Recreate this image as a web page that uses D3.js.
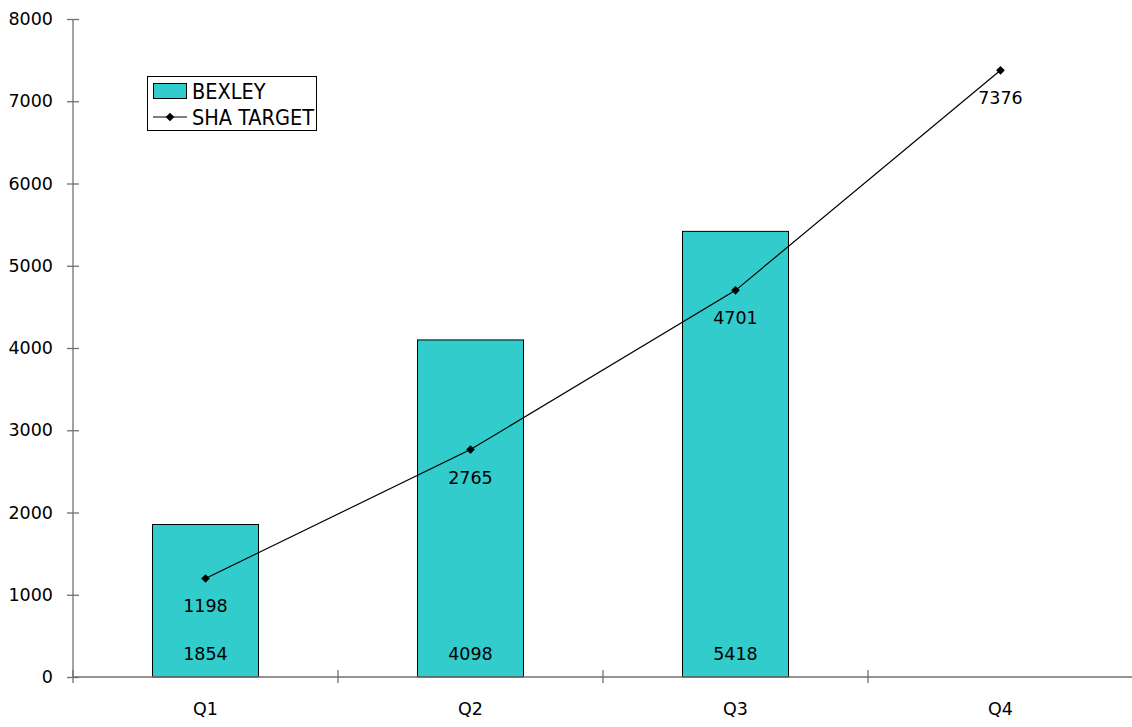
<!DOCTYPE html>
<html>
<head>
<meta charset="utf-8">
<script src="https://cdn.jsdelivr.net/npm/d3@7/dist/d3.min.js"></script>
<style>
  html, body { margin: 0; padding: 0; background: #fff; }
  svg { display: block; }
  text { font-family: "DejaVu Sans", sans-serif; fill: #000; }
  .legend text { font-family: "DejaVu Sans Condensed", "DejaVu Sans", sans-serif; font-stretch: condensed; }
</style>
</head>
<body>
<svg id="chart" width="1132" height="727"></svg>
<script>
// Quarterly figures
const quarters = ["Q1", "Q2", "Q3", "Q4"];
const bexley = [1854, 4098, 5418, null];
const shaTarget = [1198, 2765, 4701, 7376];
const yTicks = [0, 1000, 2000, 3000, 4000, 5000, 6000, 7000, 8000];

const svg = d3.select("#chart");
const plotL = 73, plotR = 1133, plotT = 19, plotB = 677;
const fontSize = 17.5;
const legendFont = 21.5;
const fontFam = "DejaVu Sans, sans-serif";

const x = d3.scaleBand().domain(quarters).range([plotL, plotR]).paddingInner(0).paddingOuter(0);
const y = d3.scaleLinear().domain([0, 8000]).range([plotB, plotT]);
const barW = x.bandwidth() * 0.4;

const barData = quarters.map((q, i) => ({ q, v: bexley[i] })).filter(d => d.v != null);

// Bars
svg.append("g").selectAll("rect")
  .data(barData)
  .join("rect")
  .attr("x", d => x(d.q) + x.bandwidth() / 2 - barW / 2)
  .attr("y", d => y(d.v))
  .attr("width", barW)
  .attr("height", d => y(0) - y(d.v))
  .attr("fill", "#33CCCC")
  .attr("stroke", "#000")
  .attr("stroke-width", 1);

// Bar value labels near the base
svg.append("g").selectAll("text")
  .data(barData)
  .join("text")
  .attr("x", d => x(d.q) + x.bandwidth() / 2)
  .attr("y", y(0) - 17.5)
  .attr("text-anchor", "middle")
  .attr("font-size", fontSize)
  .text(d => d.v);

// Axes
const yAxis = d3.axisLeft(y).tickValues(yTicks).tickSize(6).tickPadding(14).tickFormat(d3.format("d"));
const gy = svg.append("g").attr("transform", `translate(${plotL},0)`).call(yAxis);
gy.selectAll(".tick line").attr("x2", 6).attr("x1", -6);

const xAxis = d3.axisBottom(x).tickSize(0).tickPadding(26);
const gx = svg.append("g").attr("transform", `translate(0,${plotB})`).call(xAxis);
// boundary ticks between categories
const bounds = quarters.map(q => x(q)).concat([plotR]);
gx.selectAll(".bound").data(bounds).join("line")
  .attr("class", "bound")
  .attr("x1", d => d).attr("x2", d => d)
  .attr("y1", -7).attr("y2", 6);

[gy, gx].forEach(g => {
  g.select(".domain").attr("stroke", "#707070").attr("stroke-width", 1.3);
  g.selectAll("line").attr("stroke", "#707070").attr("stroke-width", 1.3);
  g.selectAll("text").attr("font-size", fontSize).attr("font-family", fontFam).attr("fill", "#000");
});
gy.select(".domain").attr("d", `M0,${plotB}V${plotT}`);
gx.select(".domain").attr("d", `M${plotL},0H${plotR}`);

// Target line
const pts = quarters.map((q, i) => ({ q, v: shaTarget[i] }));
const cx = d => x(d.q) + x.bandwidth() / 2;
svg.append("path")
  .datum(pts)
  .attr("fill", "none")
  .attr("stroke", "#000")
  .attr("stroke-width", 1.2)
  .attr("d", d3.line().x(cx).y(d => y(d.v)));

const diamond = d3.symbol().type(d3.symbolDiamond2).size(48);
svg.append("g").selectAll("path")
  .data(pts)
  .join("path")
  .attr("transform", d => `translate(${cx(d)},${y(d.v)})`)
  .attr("d", diamond)
  .attr("fill", "#000");

svg.append("g").selectAll("text")
  .data(pts)
  .join("text")
  .attr("x", cx)
  .attr("y", d => y(d.v) + 34)
  .attr("text-anchor", "middle")
  .attr("font-size", fontSize)
  .text(d => d.v);

// Legend
const lg = svg.append("g").attr("class", "legend");
lg.append("rect").attr("x", 147.5).attr("y", 76.5).attr("width", 169).attr("height", 54)
  .attr("fill", "#fff").attr("stroke", "#000").attr("stroke-width", 1);
lg.append("rect").attr("x", 153.5).attr("y", 83.5).attr("width", 33).attr("height", 15)
  .attr("fill", "#33CCCC").attr("stroke", "#000");
lg.append("text").attr("x", 192).attr("y", 98.5).attr("font-size", legendFont).text("BEXLEY");
lg.append("line").attr("x1", 153).attr("x2", 187).attr("y1", 117).attr("y2", 117)
  .attr("stroke", "#000").attr("stroke-width", 1.2);
lg.append("path").attr("transform", "translate(170,117)").attr("d", diamond).attr("fill", "#000");
lg.append("text").attr("x", 192).attr("y", 124.5).attr("font-size", legendFont).text("SHA TARGET");
</script>
</body>
</html>
